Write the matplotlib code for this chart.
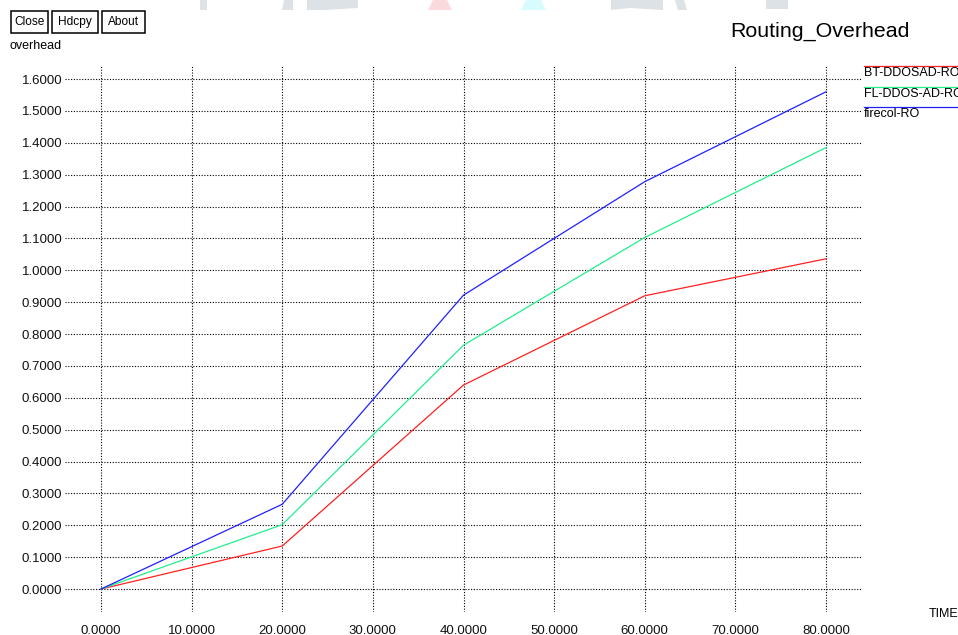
import matplotlib
matplotlib.use("Agg")
import matplotlib.pyplot as plt
from matplotlib.lines import Line2D
from matplotlib.patches import Polygon, Rectangle

#--------------- Style ---------------------
plt.rcParams['font.family'] = ['Liberation Sans', 'DejaVu Sans']
plt.rcParams['font.size'] = 9

#--------------- Data ----------------------
time = [0, 20, 40, 60, 80]
bt_ddosad = [0.0, 0.135, 0.640, 0.920, 1.036]
fl_ddos_ad = [0.0, 0.202, 0.765, 1.103, 1.385]
firecol = [0.0, 0.266, 0.922, 1.278, 1.560]

series = [bt_ddosad, fl_ddos_ad, firecol]
labels = ["BT-DDOSAD-RO", "FL-DDOS-AD-RO", "firecol-RO"]
colors = ["#ff2020", "#22ee8c", "#2020ff"]

xticks = [0, 10, 20, 30, 40, 50, 60, 70, 80]
yticks = [0.0, 0.1, 0.2, 0.3, 0.4, 0.5, 0.6, 0.7, 0.8, 0.9, 1.0, 1.1, 1.2, 1.3, 1.4, 1.5, 1.6]

W, H = 958, 635
fig = plt.figure(figsize=(W / 100, H / 100), dpi=100)

def px(x, y):
	# pixel position (from top-left) -> figure fraction
	return x / W, 1 - y / H

# plot area in pixels
left, top, right, bottom = 65, 65, 862, 612
ax = fig.add_axes([left / W, 1 - bottom / H, (right - left) / W, (bottom - top) / H])
ax.set_xlim(-3.97, 83.97)
ax.set_ylim(-0.072, 1.644)

for vals, c in zip(series, colors):
	ax.plot(time, vals, color=c, lw=0.9)

ax.set_xticks(xticks)
ax.set_yticks(yticks)
ax.set_xticklabels(["%.4f" % v for v in xticks])
ax.set_yticklabels(["%.4f" % v for v in yticks])
ax.tick_params(length=0, labelsize=9.5, colors='#111111')
ax.tick_params(axis='x', pad=9)
ax.tick_params(axis='y', pad=2)
ax.grid(True, color='black', linestyle=(0, (1, 1.5)), linewidth=0.8)
for s in ax.spines.values():
	s.set_visible(False)

# Texts
fig.text(*px(820, 31), "Routing_Overhead", fontsize=15.4, ha='center', va='center')
fig.text(*px(10, 46), "overhead", fontsize=9, ha='left', va='center')
fig.text(*px(929, 614), "TIME", fontsize=9, ha='left', va='center')

# Buttons
for name, x0, w in [("Close", 11, 37), ("Hdcpy", 52, 46), ("About", 102, 43)]:
	x0p, y0p = px(x0, 33)
	fig.add_artist(Rectangle((x0p, y0p), w / W, 22 / H, fc='white', ec='black',
		lw=1.1, transform=fig.transFigure))
	fig.text(*px(x0 + w / 2, 22), name, fontsize=8.6, ha='center', va='center')

# Legend
leg_y = [66, 87, 107]
for lab, c, y in zip(labels, colors, leg_y):
	fig.add_artist(Line2D([864 / W, 1.0], [1 - y / H] * 2, color=c, lw=0.9))
	fig.text(*px(864, y + 7), lab, fontsize=9, ha='left', va='center')

# faint banner shapes along the top edge
banner = [
	([(200, 0), (207, 0), (207, 10), (200, 10)], '#dde2e6'),
	([(284, 0), (293, 0), (293, 10), (282, 10)], '#dde2e6'),
	([(307, 0), (358, 0), (358, 8), (325, 10), (307, 10)], '#dde2e6'),
	([(433, 0), (447, 0), (452, 10), (428, 10)], '#fbdadb'),
	([(526, 0), (541, 0), (546, 10), (521, 10)], '#d8fbfd'),
	([(611, 0), (663, 0), (663, 10), (630, 8), (611, 10)], '#dde2e6'),
	([(675, 0), (684, 0), (687, 10), (678, 10)], '#dde2e6'),
	([(766, 0), (788, 0), (788, 9), (766, 9)], '#dde2e6'),
]
for pts, c in banner:
	fig.add_artist(Polygon([px(x, y) for x, y in pts], closed=True, fc=c, ec='none',
		transform=fig.transFigure))

fig.savefig("out.png", dpi=100)
